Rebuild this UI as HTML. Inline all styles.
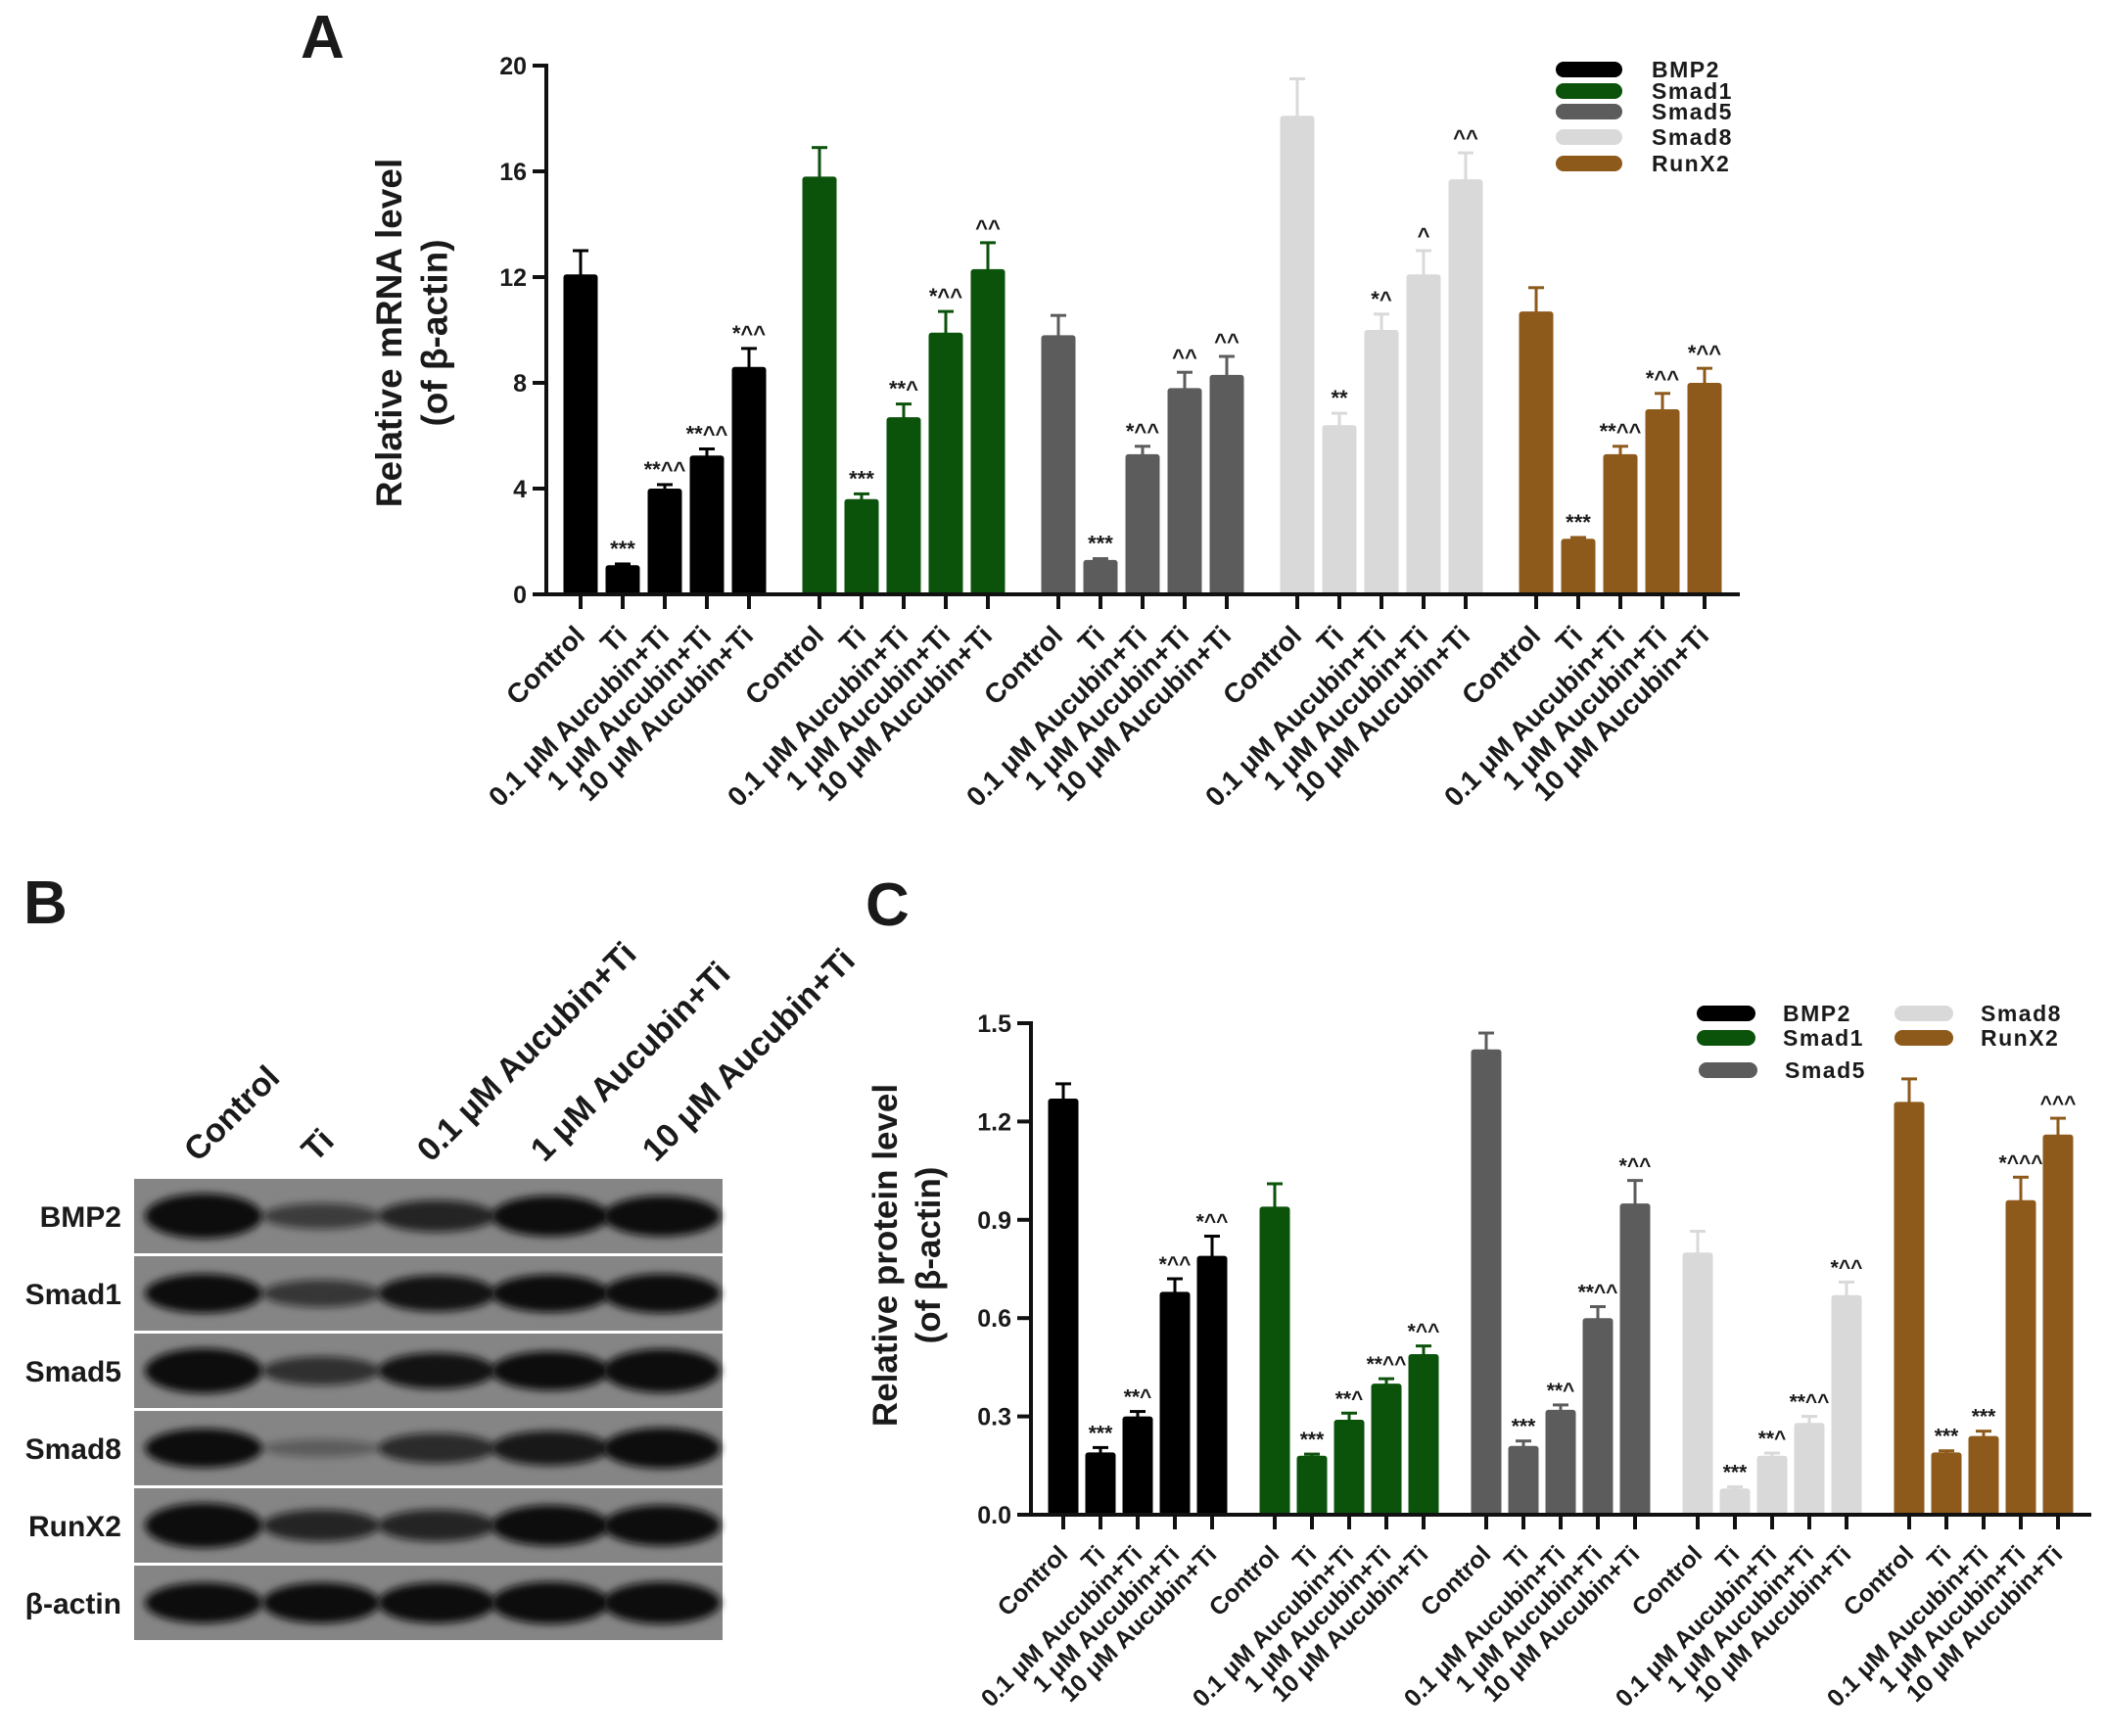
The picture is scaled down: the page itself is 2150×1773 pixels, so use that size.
<!DOCTYPE html>
<html><head><meta charset="utf-8">
<style>
html,body{margin:0;padding:0;background:#fff;}
svg{display:block;}
text{font-family:"Liberation Sans",Arial,sans-serif;font-weight:bold;fill:#1a1a1a;}
</style></head>
<body>
<svg id="fig" width="2150" height="1773" viewBox="0 0 2150 1773" xmlns="http://www.w3.org/2000/svg">
<defs>
<filter id="blur" x="-20%" y="-50%" width="140%" height="200%"><feGaussianBlur stdDeviation="4"/></filter>
</defs>
<text x="307" y="59" font-size="62">A</text>
<text x="24" y="943" font-size="62">B</text>
<text x="884" y="945" font-size="62">C</text>
<g id="chartA"></g>
<g id="chartC"></g>
<g id="blot"></g>
</svg>
<script>
// ---------- data ----------
var genes = ["BMP2","Smad1","Smad5","Smad8","RunX2"];
var groups = ["Control","Ti","0.1 μM Aucubin+Ti","1 μM Aucubin+Ti","10 μM Aucubin+Ti"];
var geneColors = ["#000000","#0b520b","#5c5c5c","#d9d9d9","#8e5a1c"];

var mrnaTicks = [0,4,8,12,16,20];
var mrnaBMP2 = [12.1,1.1,4.0,5.25,8.6];
var mrnaSmad1 = [15.8,3.6,6.7,9.9,12.3];
var mrnaSmad5 = [9.8,1.3,5.3,7.8,8.3];
var mrnaSmad8 = [18.1,6.4,10.0,12.1,15.7];
var mrnaRunX2 = [10.7,2.1,5.3,7.0,8.0];
var mrnaErrBMP2 = [0.9,0.05,0.15,0.25,0.7];
var mrnaErrSmad1 = [1.1,0.2,0.5,0.8,1.0];
var mrnaErrSmad5 = [0.75,0.05,0.3,0.6,0.7];
var mrnaErrSmad8 = [1.4,0.45,0.6,0.9,1.0];
var mrnaErrRunX2 = [0.9,0.05,0.3,0.6,0.55];
var mrnaSigBMP2 = ["","***","**^^","**^^","*^^"];
var mrnaSigSmad1 = ["","***","**^","*^^","^^"];
var mrnaSigSmad5 = ["","***","*^^","^^","^^"];
var mrnaSigSmad8 = ["","**","*^","^","^^"];
var mrnaSigRunX2 = ["","***","**^^","*^^","*^^"];

var protTicks = [0.0,0.3,0.6,0.9,1.2,1.5];
var protTickLabels = ["0.0","0.3","0.6","0.9","1.2","1.5"];
var protBMP2 = [1.27,0.19,0.30,0.68,0.79];
var protSmad1 = [0.94,0.18,0.29,0.40,0.49];
var protSmad5 = [1.42,0.21,0.32,0.60,0.95];
var protSmad8 = [0.80,0.08,0.18,0.28,0.67];
var protRunX2 = [1.26,0.19,0.24,0.96,1.16];
var protErrBMP2 = [0.045,0.015,0.015,0.04,0.06];
var protErrSmad1 = [0.07,0.005,0.02,0.015,0.025];
var protErrSmad5 = [0.05,0.015,0.015,0.035,0.07];
var protErrSmad8 = [0.065,0.005,0.008,0.02,0.04];
var protErrRunX2 = [0.07,0.005,0.015,0.07,0.05];
var protSigBMP2 = ["","***","**^","*^^","*^^"];
var protSigSmad1 = ["","***","**^","**^^","*^^"];
var protSigSmad5 = ["","***","**^","**^^","*^^"];
var protSigSmad8 = ["","***","**^","**^^","*^^"];
var protSigRunX2 = ["","***","***","*^^^","^^^"];

var blotRows = ["BMP2","Smad1","Smad5","Smad8","RunX2","β-actin"];
var blotBMP2 = [1.0,0.35,0.55,0.85,0.85];
var blotSmad1 = [0.8,0.4,0.7,0.75,0.8];
var blotSmad5 = [1.0,0.45,0.7,0.8,0.95];
var blotSmad8 = [0.8,0.08,0.5,0.65,0.85];
var blotRunX2 = [1.0,0.55,0.55,0.85,0.85];
var blotActin = [0.85,0.85,0.85,0.9,0.9];

var NS = "http://www.w3.org/2000/svg";
function mk(tag, parent, attrs){
  var e = document.createElementNS(NS, tag);
  for (var k in attrs) e.setAttribute(k, attrs[k]);
  parent.appendChild(e);
  return e;
}

function drawChart(g, cfg){
  var yScale = function(v){ return cfg.y0 - (v - cfg.vmin) / (cfg.vmax - cfg.vmin) * (cfg.y0 - cfg.yTop); };
  var xPos = function(gi, bi){ return cfg.x0 + gi * cfg.groupStep + bi * cfg.barStep; };
  for (var gi = 0; gi < cfg.series.length; gi++){
    var vals = cfg.series[gi], errs = cfg.errs[gi], sigs = cfg.sigs[gi];
    for (var bi = 0; bi < vals.length; bi++){
      var cx = xPos(gi, bi), top = yScale(vals[bi]), base = yScale(0);
      var b = mk("rect", g, {x: cx - cfg.barW/2, y: top, width: cfg.barW, height: base - top, rx: 3, fill: geneColors[gi]});
      
      
      var et = yScale(vals[bi] + errs[bi]);
      var e1 = mk("line", g, {x1: cx, x2: cx, y1: top + 2, y2: et, stroke: geneColors[gi], "stroke-width": 3});
      
      
      var e2 = mk("line", g, {x1: cx - 8, x2: cx + 8, y1: et, y2: et, stroke: geneColors[gi], "stroke-width": 3});
      
      
      if (sigs[bi]){
        var s = mk("text", g, {x: cx, y: et - 8, "font-size": cfg.sigSize, "text-anchor": "middle"});
        s.textContent = sigs[bi];
        
        
      }
      var tk = mk("line", g, {x1: cx, x2: cx, y1: cfg.y0, y2: cfg.y0 + 15, stroke: "#111", "stroke-width": 4});
      
      
      var lx = cx + 6, ly = cfg.y0 + cfg.labOff;
      var lb = mk("text", g, {x: lx, y: ly, "font-size": cfg.xFont, "text-anchor": "end", transform: "rotate(-45 " + lx + " " + ly + ")"});
      lb.textContent = groups[bi];
      
      
    }
  }
  var ya = mk("line", g, {x1: cfg.axX, x2: cfg.axX, y1: cfg.yTop - 2, y2: cfg.y0 + 2, stroke: "#111", "stroke-width": 4});
  
  
  var xa = mk("line", g, {x1: cfg.axX - 14, x2: cfg.axEnd, y1: cfg.y0, y2: cfg.y0, stroke: "#111", "stroke-width": 4});
  
  
  for (var i = 0; i < cfg.ticks.length; i++){
    var ty = yScale(cfg.ticks[i]);
    var t = mk("line", g, {x1: cfg.axX - 14, x2: cfg.axX, y1: ty, y2: ty, stroke: "#111", "stroke-width": 4});
    
    
    var tl = mk("text", g, {x: cfg.axX - 20, y: ty + 9, "font-size": 25, "text-anchor": "end"});
    tl.textContent = cfg.tickLabels[i];
    
    
  }
  var tt = mk("text", g, {x: 0, y: 0, "font-size": cfg.titleSize, "text-anchor": "middle", transform: "translate(" + cfg.titleX + "," + cfg.titleY + ") rotate(-90)"});
  
  
  var ts1 = mk("tspan", tt, {x: 0, dy: 0}); ts1.textContent = cfg.title1;
  var ts2 = mk("tspan", tt, {x: 0, dy: cfg.titleSize * 1.25}); ts2.textContent = "(of β-actin)";
  for (var li = 0; li < genes.length; li++){
    var p = cfg.legend[li];
    var sw = mk("rect", g, {x: p[0], y: p[1] - 8, width: cfg.swW, height: 16, rx: 8, fill: geneColors[li]});
    
    
    var lt = mk("text", g, {x: p[0] + cfg.swW + cfg.txtGap, y: p[1] + 8, "font-size": cfg.legFont, "letter-spacing": 1.5});
    lt.textContent = genes[li];
    
    
  }
}

drawChart(document.getElementById("chartA"), {
  x0: 593, barStep: 43, groupStep: 244, barW: 35,
  y0: 607, yTop: 67, vmin: 0, vmax: 20, axX: 558, axEnd: 1777,
  series: [mrnaBMP2, mrnaSmad1, mrnaSmad5, mrnaSmad8, mrnaRunX2],
  errs: [mrnaErrBMP2, mrnaErrSmad1, mrnaErrSmad5, mrnaErrSmad8, mrnaErrRunX2],
  sigs: [mrnaSigBMP2, mrnaSigSmad1, mrnaSigSmad5, mrnaSigSmad8, mrnaSigRunX2],
  ticks: mrnaTicks, tickLabels: mrnaTicks.map(String),
  sigSize: 22, xFont: 28, labOff: 44, titleSize: 37, titleX: 410, titleY: 340, title1: "Relative mRNA level",
  legend: [[1589,71],[1589,93],[1589,114],[1589,140],[1589,167]], swW: 68, txtGap: 30, legFont: 23
});

drawChart(document.getElementById("chartC"), {
  x0: 1086, barStep: 38, groupStep: 216, barW: 31,
  y0: 1547, yTop: 1045, vmin: 0, vmax: 1.5, axX: 1053, axEnd: 2136,
  series: [protBMP2, protSmad1, protSmad5, protSmad8, protRunX2],
  errs: [protErrBMP2, protErrSmad1, protErrSmad5, protErrSmad8, protErrRunX2],
  sigs: [protSigBMP2, protSigSmad1, protSigSmad5, protSigSmad8, protSigRunX2],
  ticks: protTicks, tickLabels: protTickLabels,
  sigSize: 21, xFont: 25, labOff: 42, titleSize: 35, titleX: 916, titleY: 1282, title1: "Relative protein level",
  legend: [[1733,1035],[1733,1060],[1735,1093],[1935,1035],[1935,1060]], swW: 60, txtGap: 28, legFont: 23
});

// ---------- western blot ----------
(function(){
  var g = document.getElementById("blot");
  var rowsData = [blotBMP2, blotSmad1, blotSmad5, blotSmad8, blotRunX2, blotActin];
  var lanes = [208, 328, 446, 562, 676];
  for (var r = 0; r < 6; r++){
    var top = 1204 + r * 79;
    var st = mk("rect", g, {x: 137, y: top, width: 601, height: 76, fill: "#858585"});
    
    
    var cy = top + 38;
    for (var l = 0; l < 5; l++){
      var v = rowsData[r][l];
      var band = mk("ellipse", g, {cx: lanes[l], cy: cy, rx: 60, ry: 8 + 15 * v, fill: "#111", opacity: Math.min(1, 0.25 + v), filter: "url(#blur)"});
      
      
    }
    var lab = mk("text", g, {x: 124, y: cy + 11, "font-size": 30, "text-anchor": "end"});
    lab.textContent = blotRows[r];
    
    
  }
  for (var l2 = 0; l2 < 5; l2++){
    var bx = lanes[l2] - 6, by = 1188;
    var cl = mk("text", g, {x: bx, y: by, "font-size": 34, transform: "rotate(-45 " + bx + " " + by + ")"});
    cl.textContent = groups[l2];
    
    
  }
})();
</script>
</body></html>
